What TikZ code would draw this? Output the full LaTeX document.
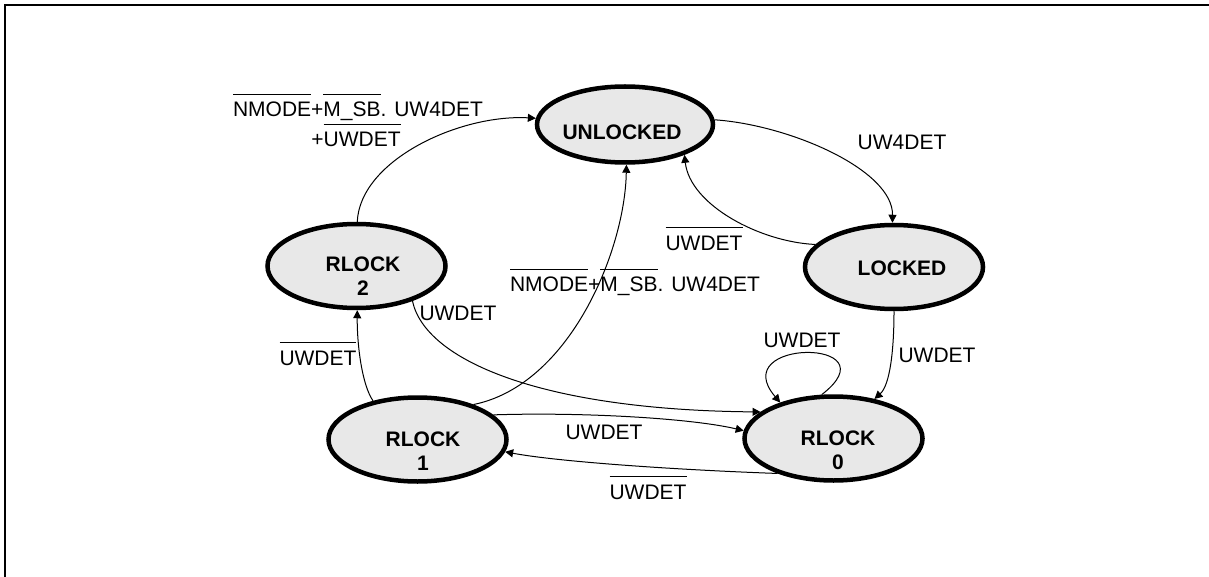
\documentclass[tikz,border=0pt]{standalone}
\usepackage{fontspec}
\setmainfont{Liberation Sans}
\usetikzlibrary{arrows.meta,shapes.geometric}
\definecolor{stfill}{RGB}{232,232,232}
\newcommand{\ovl}[1]{\leavevmode\vbox{\hrule height 0.5pt\kern 3.8pt\hbox{#1}}}
\begin{document}
\begin{tikzpicture}[x=0.5pt,y=-0.5pt,
  state/.style={ellipse, draw=black, line width=2.25pt, fill=stfill,
    minimum width=89pt, minimum height=42pt, inner sep=0pt},
  sttext/.style={font=\fontsize{10.5}{12}\selectfont\bfseries, align=center, inner sep=0pt},
  lbl/.style={font=\fontsize{10.5}{12}\selectfont, inner sep=0pt, anchor=base},
  edge/.style={line width=0.5pt, -{Triangle[length=4pt,width=4pt]}}]
\useasboundingbox (0,0) rectangle (1209,577);
% frame
\draw[line width=1pt] (5,577) -- (5,5.5) -- (1209,5.5);
% states
\node[state, minimum width=88pt, minimum height=38pt] (u) at (625,124.5) {};
\node[state] (lk) at (894,267) {};
\node[state] (r2) at (356.5,266) {};
\node[state] (r1) at (417.5,439.5) {};
\node[state] (r0) at (833.5,438.5) {};
\node[sttext] (ut) at (622,132.5) {UNLOCKED};
\node[sttext] (lt) at (902,268.5) {LOCKED};
\node[sttext] (r2t) at (363,276) {RLOCK\\2};
\node[sttext] (r1t) at (423,451) {RLOCK\\1};
\node[sttext] (r0t) at (838,450) {RLOCK\\0};
% edges
\draw[edge] (r2.89) .. controls (360,160) and (460,114) .. (u.176);
\draw[edge] (u.3) .. controls (790,125) and (893,170) .. (lk.92);
\draw[edge] (lk.164) .. controls (760,242) and (690,205) .. (u.-27);
\draw[edge] (lk.-90) .. controls (894,350) and (890,385) .. (r0.44);
\draw[edge] (r0.105) .. controls (895,338) and (725,338) .. (r0.146);
\draw[edge] (r2.-32) .. controls (425,360) and (540,410) .. (r0.160);
\draw[edge] (r1.139) .. controls (362,385) and (357,345) .. (r2.-89);
\draw[edge] (r1.32) .. controls (570,385) and (625,250) .. (u.-88);
\draw[edge] (r1.18) .. controls (580,412) and (690,418) .. (r0.175);
\draw[edge] (r0.212) .. controls (680,470) and (560,462) .. (r1.-8);
% labels
\node[lbl] (t1a) at (358,117) {\ovl{NMODE}+\ovl{M\_SB}. UW4DET};
\node[lbl] (t1b) at (356,147) {+\ovl{UWDET}};
\node[lbl] (t2) at (902,150) {UW4DET};
\node[lbl] (t3) at (704,250) {\ovl{UWDET}};
\node[lbl] (t4) at (635,292) {\ovl{NMODE}+\ovl{M\_SB}. UW4DET};
\node[lbl] (t5) at (458,320) {UWDET};
\node[lbl] (t6) at (318,365) {\ovl{UWDET}};
\node[lbl] (t7) at (802,347) {UWDET};
\node[lbl] (t8) at (937,362) {UWDET};
\node[lbl] (t9) at (604,439) {UWDET};
\node[lbl] (t10) at (648,499) {\ovl{UWDET}};
\end{tikzpicture}
\end{document}
